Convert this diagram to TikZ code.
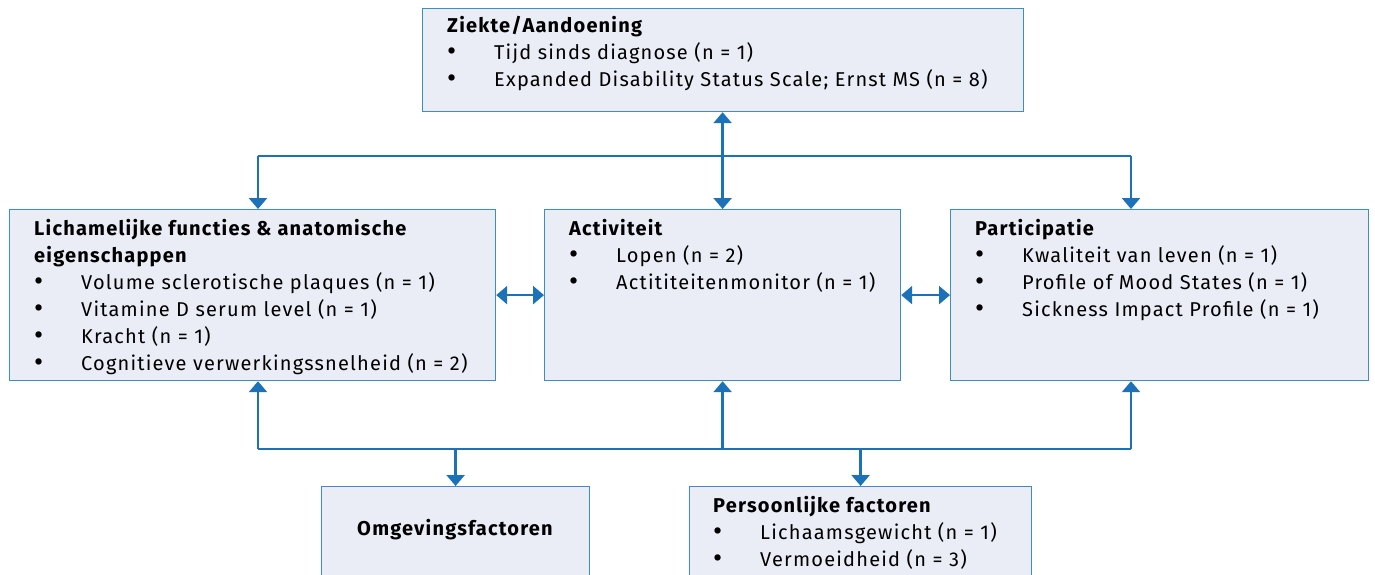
\documentclass[tikz,border=0pt]{standalone}
\usepackage{fontspec}
\setmainfont{Fira Sans}[LetterSpace=6]
\usepackage{xcolor}
\usepackage{graphicx}
\usetikzlibrary{arrows.meta,calc,positioning}

\definecolor{boxfill}{HTML}{EAEDF6}
\definecolor{boxline}{HTML}{3C8DCB}
\definecolor{linkblue}{HTML}{1C72B8}
\newcommand{\itm}[1]{\makebox[47pt][l]{\raisebox{-1pt}{\scalebox{1.4}{\textbullet}}}#1}

\begin{document}
\begin{tikzpicture}[x=1pt, y=-1pt, font=\fontsize{20}{27}\selectfont, >={Triangle[width=18pt,length=11pt]}, line join=miter]
  \tikzset{
    box/.style={draw=boxline, fill=boxfill, line width=1.2pt, anchor=north west, inner sep=0pt},
    txt/.style={anchor=north west, align=left, inner sep=0pt},
    link/.style={draw=linkblue, line width=2.5pt},
  }
  \clip (0,0) rectangle (1375,574);

  % ICF boxes.
  \node[box, minimum width=601pt, minimum height=103pt] (ziekte) at (422,8) {};
  \node[box, minimum width=486pt, minimum height=171pt] (lich) at (9,209) {};
  \node[box, minimum width=356pt, minimum height=171pt] (activ) at (544,209) {};
  \node[box, minimum width=418pt, minimum height=171pt] (partic) at (950,209) {};
  \node[box, minimum width=268pt, minimum height=110pt] (omgev) at (321,486) {};
  \node[box, minimum width=342pt, minimum height=110pt] (pers) at (689,486) {};

  % Box texts.
  \node[txt] (ziekteTxt) at ($(ziekte.north west)+(25,8)$) {\textbf{Ziekte/Aandoening}\\
    \itm{Tijd sinds diagnose (n = 1)}\\
    \itm{Expanded Disability Status Scale; Ernst MS (n = 8)}};
  \node[txt] (lichTxt) at ($(lich.north west)+(25,10)$) {\textbf{Lichamelijke functies \& anatomische}\\
    \textbf{eigenschappen}\\
    \itm{Volume sclerotische plaques (n = 1)}\\
    \itm{Vitamine D serum level (n = 1)}\\
    \itm{Kracht (n = 1)}\\
    \itm{Cognitieve verwerkingssnelheid (n = 2)}};
  \node[txt] (activTxt) at ($(activ.north west)+(25,10)$) {\textbf{Activiteit}\\
    \itm{Lopen (n = 2)}\\
    \itm{Actititeitenmonitor (n = 1)}};
  \node[txt] (particTxt) at ($(partic.north west)+(25,10)$) {\textbf{Participatie}\\
    \itm{Kwaliteit van leven (n = 1)}\\
    \itm{Profile of Mood States (n = 1)}\\
    \itm{Sickness Impact Profile (n = 1)}};
  \node[inner sep=0pt] (omgevTxt) at ($(omgev.north)+(0,44)$) {\textbf{Omgevingsfactoren}};
  \node[txt] (persTxt) at ($(pers.north west)+(24,10)$) {\textbf{Persoonlijke factoren}\\
    \itm{Lichaamsgewicht (n = 1)}\\
    \itm{Vermoeidheid (n = 3)}};

  % Upper links.
  \coordinate (topL) at (258,156);
  \coordinate (topR) at (1131,156);
  \draw[link, <->] (activ.north |- ziekte.south) -- (activ.north);
  \draw[link] (topL) -- (topR);
  \draw[link, ->] (topL) -- (topL |- lich.north);
  \draw[link, ->] (topR) -- (topR |- partic.north);
  \draw[link, <->] (lich.east) -- (activ.west);
  \draw[link, <->] (activ.east) -- (partic.west);

  % Lower links.
  \coordinate (botL) at (258,449);
  \coordinate (botR) at (1131,449);
  \draw[link] (botL) -- (botR);
  \draw[link, ->] (botL) -- (botL |- lich.south);
  \draw[link, ->] (activ.south |- botL) -- (activ.south);
  \draw[link, ->] (botR) -- (botR |- partic.south);
  \draw[link, ->] (omgev.north |- botL) -- (omgev.north);
  \draw[link, ->] (pers.north |- botL) -- (pers.north);
\end{tikzpicture}
\end{document}
